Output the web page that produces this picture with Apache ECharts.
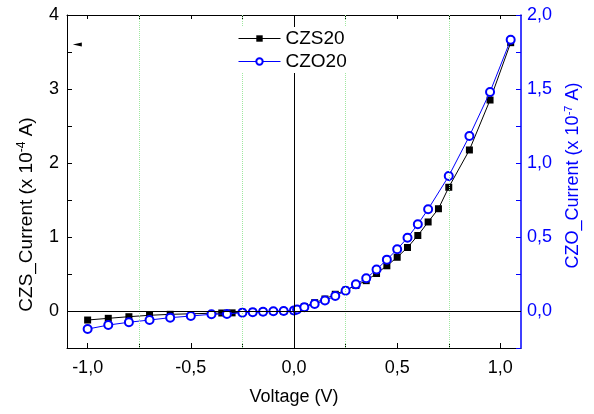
<!DOCTYPE html>
<html><head><meta charset="utf-8">
<script src="https://cdn.jsdelivr.net/npm/echarts@6/dist/echarts.min.js"></script>
<style>html,body{margin:0;padding:0;background:#fff}#c{width:594px;height:414px}</style>
</head><body><div id="c"></div>
<script>
const czsVoltage = [-1.0,-0.9,-0.8,-0.7,-0.6,-0.35,-0.3,-0.25,-0.2,-0.15,-0.1,-0.05,0.0,0.05,0.1,0.15,0.2,0.25,0.3,0.35,0.4,0.45,0.5,0.55,0.6,0.65,0.7,0.75,0.85,0.95,1.05];
const czsCurrent = [-0.122,-0.099,-0.077,-0.058,-0.045,-0.027,-0.025,-0.018,-0.014,-0.01,-0.007,-0.003,0.003,0.058,0.112,0.162,0.226,0.281,0.345,0.41,0.507,0.611,0.726,0.858,1.02,1.203,1.382,1.672,2.176,2.851,3.626];
const czoVoltage = [-1.0,-0.9,-0.8,-0.7,-0.6,-0.5,-0.4,-0.325,-0.25,-0.2,-0.15,-0.1,-0.05,0.0,0.015,0.05,0.1,0.15,0.2,0.25,0.3,0.35,0.4,0.45,0.5,0.55,0.6,0.65,0.75,0.85,0.95,1.05];
const czoCurrent = [-0.122,-0.095,-0.076,-0.061,-0.045,-0.034,-0.022,-0.020,-0.011,-0.009,-0.005,-0.002,0.0,0.004,0.01,0.025,0.047,0.071,0.101,0.137,0.18,0.221,0.28,0.347,0.417,0.495,0.586,0.688,0.912,1.182,1.48,1.833];

const xLabelValues = [-1.0,-0.5,0.0,0.5,1.0];
const xTickValues = [-1.0,-0.75,-0.5,-0.25,0.0,0.25,0.5,0.75,1.0];
const guideValues = [-0.75,-0.25,0.25,0.75];
const leftLabelValues = [0,1,2,3,4];
const leftTickValues = [-0.5,0,0.5,1,1.5,2,2.5,3,3.5,4];
const rightLabelValues = [0,0.5,1.0,1.5,2.0];
const rightTickValues = [-0.25,0,0.25,0.5,0.75,1.0,1.25,1.5,1.75,2.0];
const arrowMark = [-1.05, 3.6];

const FONT = 'Liberation Sans, Arial, sans-serif';
const FS = 18;
const comma = v => v.toFixed(1).replace('.', ',');
const BLUE = '#0000ff';

const chart = echarts.init(document.getElementById('c'), null, {renderer: 'canvas'});
chart.setOption({
  animation: false,
  backgroundColor: '#fff',
  textStyle: {fontFamily: FONT},
  grid: {left: 67, right: 73, top: 15, bottom: 66},
  legend: {
    left: 236, top: 27, orient: 'vertical', itemWidth: 42, itemHeight: 8, itemGap: 4,
    backgroundColor: '#fff', padding: [2, 4, 2, 2], z: 10,
    lineStyle: {width: 1},
    textStyle: {fontFamily: FONT, fontSize: 19, color: '#000'},
    data: ['CZS20', 'CZO20']
  },
  xAxis: [{
    type: 'value', min: -1.1, max: 1.1, position: 'bottom',
    name: 'Voltage (V)', nameLocation: 'middle', nameGap: 40,
    nameTextStyle: {fontFamily: FONT, fontSize: FS, color: '#000'},
    axisLine: {show: true, onZero: false, lineStyle: {color: '#000', width: 1}},
    axisTick: {show: true, inside: true, length: 5, customValues: xTickValues, lineStyle: {color: '#000'}},
    axisLabel: {customValues: xLabelValues, formatter: comma, margin: 11, fontFamily: FONT, fontSize: FS, color: '#000'},
    splitLine: {show: false}
  }, {
    type: 'value', min: -1.1, max: 1.1, position: 'top',
    axisLine: {show: true, onZero: false, lineStyle: {color: '#000', width: 1}},
    axisTick: {show: true, inside: true, length: 4, customValues: xTickValues, lineStyle: {color: '#000'}},
    axisLabel: {show: false},
    splitLine: {show: false}
  }],
  yAxis: [{
    type: 'value', min: -0.5, max: 4, position: 'left',
    name: '{n|CZS_Current (x 10}{s|-4}{n| A)}', nameLocation: 'middle', nameGap: 30, nameRotate: 90,
    nameTextStyle: {padding: [0, 66, 0, 0], rich: {
      n: {fontFamily: FONT, fontSize: 19, color: '#000', lineHeight: 21},
      s: {fontFamily: FONT, fontSize: 12, color: '#000', verticalAlign: 'top', lineHeight: 12}
    }},
    axisLine: {show: true, onZero: false, lineStyle: {color: '#000', width: 1}},
    axisTick: {show: true, inside: true, length: 5, customValues: leftTickValues, lineStyle: {color: '#000'}},
    axisLabel: {customValues: leftLabelValues, formatter: v => String(v), margin: 8, fontFamily: FONT, fontSize: FS, color: '#000'},
    splitLine: {show: false}
  }, {
    type: 'value', min: -0.25, max: 2.0, position: 'right', alignTicks: false,
    name: '{n|CZO_Current (x 10}{s|-7}{n| A)}', nameLocation: 'middle', nameGap: 42, nameRotate: 90,
    nameTextStyle: {padding: [0, 0, 0, 12], rich: {
      n: {fontFamily: FONT, fontSize: FS, color: BLUE, lineHeight: 20},
      s: {fontFamily: FONT, fontSize: 11, color: BLUE, verticalAlign: 'top', lineHeight: 11}
    }},
    axisLine: {show: true, onZero: false, lineStyle: {color: BLUE, width: 1.5}},
    axisTick: {show: true, inside: true, length: 5, customValues: rightTickValues, lineStyle: {color: BLUE}},
    axisLabel: {customValues: rightLabelValues, formatter: comma, margin: 6, fontFamily: FONT, fontSize: FS, color: BLUE},
    splitLine: {show: false}
  }],
  series: [{
    name: 'CZS20', type: 'line', xAxisIndex: 0, yAxisIndex: 0,
    data: czsVoltage.map((v, i) => [v, czsCurrent[i]]),
    symbol: 'rect', symbolSize: 7, color: '#000',
    lineStyle: {color: '#000', width: 1}, itemStyle: {color: '#000'},
    markLine: {
      silent: true, symbol: 'none', label: {show: false}, animation: false,
      data: guideValues.map(g => ({xAxis: g, lineStyle: {color: '#a0e8a0', type: [1, 1], width: 1}}))
        .concat([{xAxis: 0, lineStyle: {color: '#000', type: 'solid', width: 1}},
                 {yAxis: 0, lineStyle: {color: '#000', type: 'solid', width: 1}}])
    },
    markPoint: {
      silent: true, label: {show: false},
      data: [{coord: arrowMark, symbol: 'triangle', symbolSize: [4, 9], symbolRotate: 90, itemStyle: {color: '#000'}}]
    },
    z: 2
  }, {
    name: 'CZO20', type: 'line', xAxisIndex: 0, yAxisIndex: 1,
    data: czoVoltage.map((v, i) => [v, czoCurrent[i]]),
    symbol: 'emptyCircle', symbolSize: 8, color: BLUE,
    lineStyle: {color: BLUE, width: 1}, itemStyle: {color: BLUE, borderWidth: 1},
    z: 3
  }]
});
</script></body></html>
